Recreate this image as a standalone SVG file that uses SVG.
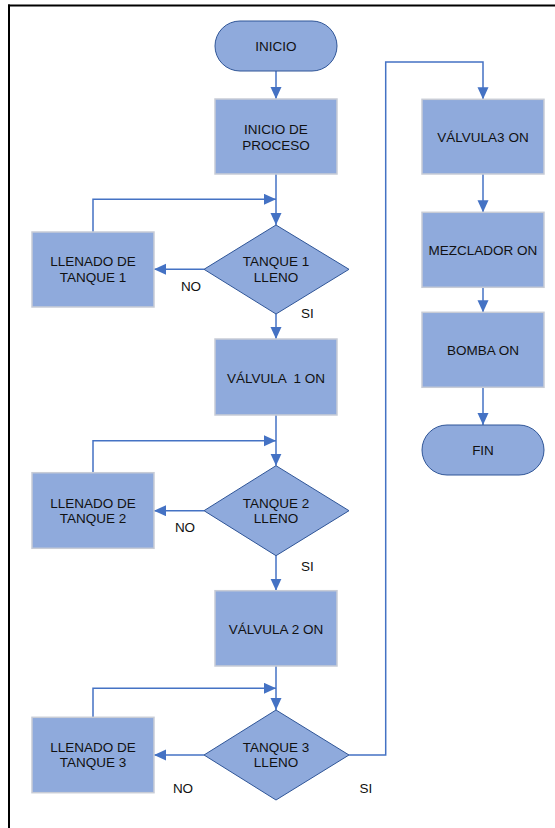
<svg xmlns="http://www.w3.org/2000/svg" width="555" height="828" viewBox="0 0 555 828">
<defs>
<marker id="ah" markerUnits="userSpaceOnUse" markerWidth="13" markerHeight="12" refX="12" refY="5.5" orient="auto">
<path d="M0,0 L12,5.5 L0,11 z" fill="#4472c4"/>
</marker>
<style>
.box{fill:#8faadc;stroke:#c8ccd6;stroke-width:1.5}
.dec{fill:#8faadc;stroke:#2f5597;stroke-width:1}
.term{fill:#8faadc;stroke:#2f5597;stroke-width:1}
.t{font-family:"Liberation Sans",Arial,sans-serif;font-size:13.5px;fill:#111;text-anchor:middle;white-space:pre}
.lbl{font-family:"Liberation Sans",Arial,sans-serif;font-size:13.5px;fill:#111;text-anchor:middle}
.c{fill:none;stroke:#4472c4;stroke-width:1.5}
.ca{fill:none;stroke:#4472c4;stroke-width:1.5;marker-end:url(#ah)}
</style>
</defs>
<rect width="555" height="828" fill="#fff"/>
<g id="frame">
<line x1="8" y1="5.5" x2="555" y2="5.5" stroke="#000" stroke-width="2"/>
<line x1="9" y1="4.5" x2="9" y2="828" stroke="#000" stroke-width="2"/>
</g>
<g id="connectors">
<line class="ca" x1="276" y1="71" x2="276" y2="99"/>
<line class="ca" x1="276" y1="174" x2="276" y2="225"/>
<polyline class="ca" points="93,232 93,199.3 276,199.3"/>
<line class="ca" x1="204" y1="269.3" x2="154" y2="269.3"/>
<line class="ca" x1="276" y1="314" x2="276" y2="339"/>
<line class="ca" x1="276" y1="415" x2="276" y2="465.7"/>
<polyline class="ca" points="93,472.7 93,440.7 276,440.7"/>
<line class="ca" x1="204" y1="510.7" x2="154" y2="510.7"/>
<line class="ca" x1="276" y1="555.7" x2="276" y2="590.7"/>
<line class="ca" x1="276" y1="666" x2="276" y2="710"/>
<polyline class="ca" points="93,717.3 93,688.3 276,688.3"/>
<line class="ca" x1="204" y1="755" x2="154" y2="755"/>
<polyline class="ca" points="349,755 385.7,755 385.7,62 483,62 483,99.3"/>
<line class="ca" x1="483" y1="174" x2="483" y2="212.3"/>
<line class="ca" x1="483" y1="287.3" x2="483" y2="312.3"/>
<line class="ca" x1="483" y1="387.3" x2="483" y2="425"/>
</g>
<g id="inicio">
<rect class="term" x="215" y="21" width="122" height="50" rx="25" ry="25"/>
<text class="t" x="276" y="51">INICIO</text>
</g>
<g id="inicio_proceso">
<rect class="box" x="215" y="99" width="122" height="75"/>
<text class="t" x="276" y="134">INICIO DE</text>
<text class="t" x="276" y="150.3">PROCESO</text>
</g>
<g id="tanque1">
<polygon class="dec" points="276,225 349,269.3 276,314 204,269.3"/>
<text class="t" x="276" y="266">TANQUE 1</text>
<text class="t" x="276" y="281.7">LLENO</text>
</g>
<g id="llenado1">
<rect class="box" x="32" y="232" width="122" height="75"/>
<text class="t" x="93" y="266">LLENADO DE</text>
<text class="t" x="93" y="281.7">TANQUE 1</text>
</g>
<g id="valvula1">
<rect class="box" x="215" y="339" width="122" height="76"/>
<text class="t" x="276" y="383">VÁLVULA  1 ON</text>
</g>
<g id="tanque2">
<polygon class="dec" points="276,465.7 349,510.7 276,555.7 204,510.7"/>
<text class="t" x="276" y="507.5">TANQUE 2</text>
<text class="t" x="276" y="523.2">LLENO</text>
</g>
<g id="llenado2">
<rect class="box" x="32" y="472.7" width="122" height="75.6"/>
<text class="t" x="93" y="507.5">LLENADO DE</text>
<text class="t" x="93" y="523.2">TANQUE 2</text>
</g>
<g id="valvula2">
<rect class="box" x="215" y="590.7" width="122" height="75.3"/>
<text class="t" x="276" y="634">VÁLVULA 2 ON</text>
</g>
<g id="tanque3">
<polygon class="dec" points="276,710 349,755 276,800 204,755"/>
<text class="t" x="276" y="751.5">TANQUE 3</text>
<text class="t" x="276" y="767.2">LLENO</text>
</g>
<g id="llenado3">
<rect class="box" x="32" y="717.3" width="122" height="75.4"/>
<text class="t" x="93" y="751.5">LLENADO DE</text>
<text class="t" x="93" y="767.2">TANQUE 3</text>
</g>
<g id="valvula3">
<rect class="box" x="422" y="99.3" width="122" height="74.7"/>
<text class="t" x="483" y="141.5">VÁLVULA3 ON</text>
</g>
<g id="mezclador">
<rect class="box" x="422" y="212.3" width="122" height="75"/>
<text class="t" x="483" y="254.5">MEZCLADOR ON</text>
</g>
<g id="bomba">
<rect class="box" x="422" y="312.3" width="122" height="75"/>
<text class="t" x="483" y="354.5">BOMBA ON</text>
</g>
<g id="fin">
<rect class="term" x="422" y="425" width="122" height="50" rx="25" ry="25"/>
<text class="t" x="483" y="455">FIN</text>
</g>
<g id="labels">
<text class="lbl" x="191" y="291">NO</text>
<text class="lbl" x="307.5" y="318">SI</text>
<text class="lbl" x="185" y="531.7">NO</text>
<text class="lbl" x="307.5" y="570.7">SI</text>
<text class="lbl" x="183" y="792.7">NO</text>
<text class="lbl" x="366" y="792.7">SI</text>
</g>
</svg>
